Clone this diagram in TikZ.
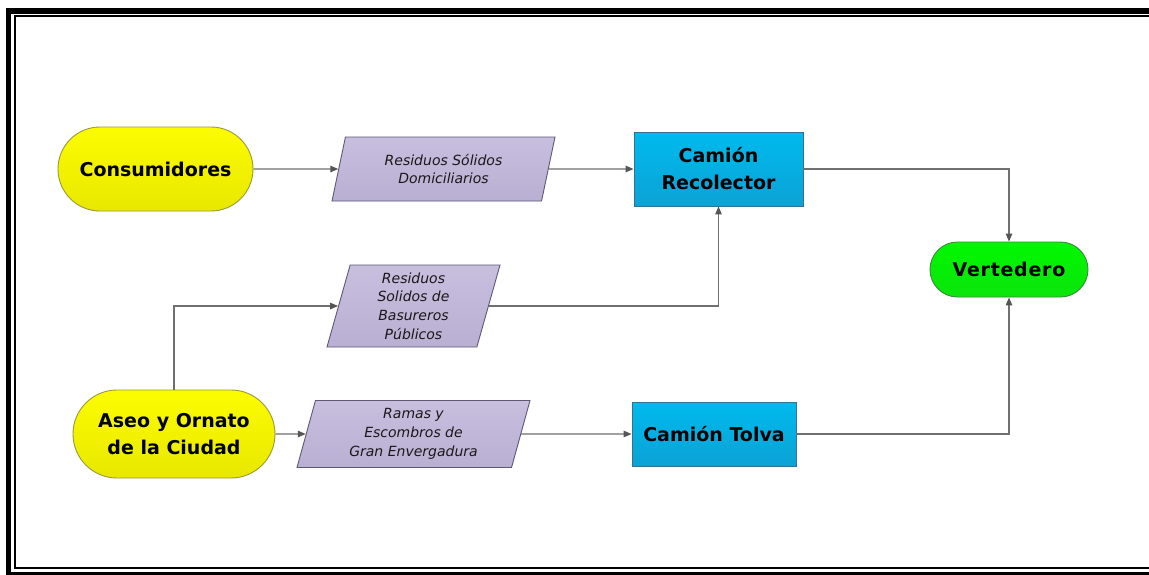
\documentclass[tikz,border=0pt]{standalone}
\usepackage{fontspec}
\setmainfont{DejaVu Sans}[BoldFont={DejaVu Sans Bold},ItalicFont={DejaVu Sans Oblique}]
\usetikzlibrary{shapes.geometric,shapes.misc,arrows.meta}

\definecolor{yelTop}{HTML}{FCFC00}
\definecolor{yelBot}{HTML}{E8E800}
\definecolor{yelLine}{HTML}{9A9A3A}
\definecolor{bluTop}{HTML}{00BAEE}
\definecolor{bluBot}{HTML}{0CA2D5}
\definecolor{bluLine}{HTML}{35708F}
\definecolor{grnTop}{HTML}{00F800}
\definecolor{grnBot}{HTML}{0CE40C}
\definecolor{grnLine}{HTML}{3A8A3A}
\definecolor{lavTop}{HTML}{C8BFDF}
\definecolor{lavBot}{HTML}{B9AFD2}
\definecolor{lavLine}{HTML}{5E5875}
\definecolor{wire}{HTML}{707070}
\definecolor{wireTip}{HTML}{555555}

\tikzset{
  bigtext/.style={font=\fontsize{19}{27}\selectfont\bfseries, align=center, text=black},
  terminal/.style={bigtext, shape=rounded rectangle, line width=0.9pt, inner sep=0pt},
  actor/.style={terminal, draw=yelLine, top color=yelTop, bottom color=yelBot},
  sink/.style={terminal, draw=grnLine, top color=grnTop, bottom color=grnBot},
  truck/.style={bigtext, shape=rectangle, draw=bluLine, line width=0.9pt,
    top color=bluTop, bottom color=bluBot, inner sep=0pt},
  flow/.style={shape=trapezium, trapezium stretches body, draw=lavLine, line width=0.9pt,
    top color=lavTop, bottom color=lavBot, inner sep=0pt, align=center,
    font=\fontsize{14}{18.8}\selectfont\itshape, text=black!90},
  link/.style={draw=wire, line width=1.2pt,
    -{Triangle[length=8pt,width=6.5pt,fill=wireTip,color=wireTip]}}
}

\begin{document}
\begin{tikzpicture}[x=1pt,y=-1pt]
  \useasboundingbox (0,0) rectangle (1149,574);
  \clip (0,0) rectangle (1149,574);
  \fill[white] (0,0) rectangle (1149,574);

  % double page frame
  \draw[line width=5.5pt] (8.5,11) rectangle (1170,574.5);
  \draw[line width=2pt] (14.6,16.3) rectangle (1170,568.3);

  % sources
  \node[actor, minimum width=195pt, minimum height=84pt] (cons) at (155.5,169) {Consumidores};
  \node[actor, minimum width=202pt, minimum height=88pt] (aseo) at (174,434) {Aseo y Ornato\\de la Ciudad};

  % waste streams
  \node[flow, trapezium left angle=66, trapezium right angle=114,
        minimum width=223pt, minimum height=64pt] (p1) at (443.5,169)
        {Residuos Sólidos\\Domiciliarios};
  \node[flow, trapezium left angle=71, trapezium right angle=109,
        minimum width=173pt, minimum height=82pt] (p2) at (413.5,306)
        {Residuos\\Solidos de\\Basureros\\Públicos};
  \node[flow, trapezium left angle=70, trapezium right angle=110,
        minimum width=233pt, minimum height=67pt] (p3) at (413.5,434)
        {Ramas y\\Escombros de\\Gran Envergadura};

  % trucks
  \node[truck, minimum width=169pt, minimum height=74pt] (crec) at (718.5,169) {Camión\\Recolector};
  \node[truck, minimum width=164pt, minimum height=64pt] (ctol) at (714,434) {Camión Tolva};

  % landfill
  \node[sink, minimum width=158pt, minimum height=55pt] (vert) at (1009,269.5)
        {\addfontfeature{LetterSpace=4}Vertedero};

  % connectors
  \draw[link] (cons) -- (p1);
  \draw[link] (p1) -- (crec);
  \draw[link] (crec) -| (vert);
  \draw[link] (aseo) |- (p2);
  \draw[link] (p2) -| (crec);
  \draw[link] (aseo) -- (p3);
  \draw[link] (p3) -- (ctol);
  \draw[link] (ctol) -| (vert);
\end{tikzpicture}
\end{document}
